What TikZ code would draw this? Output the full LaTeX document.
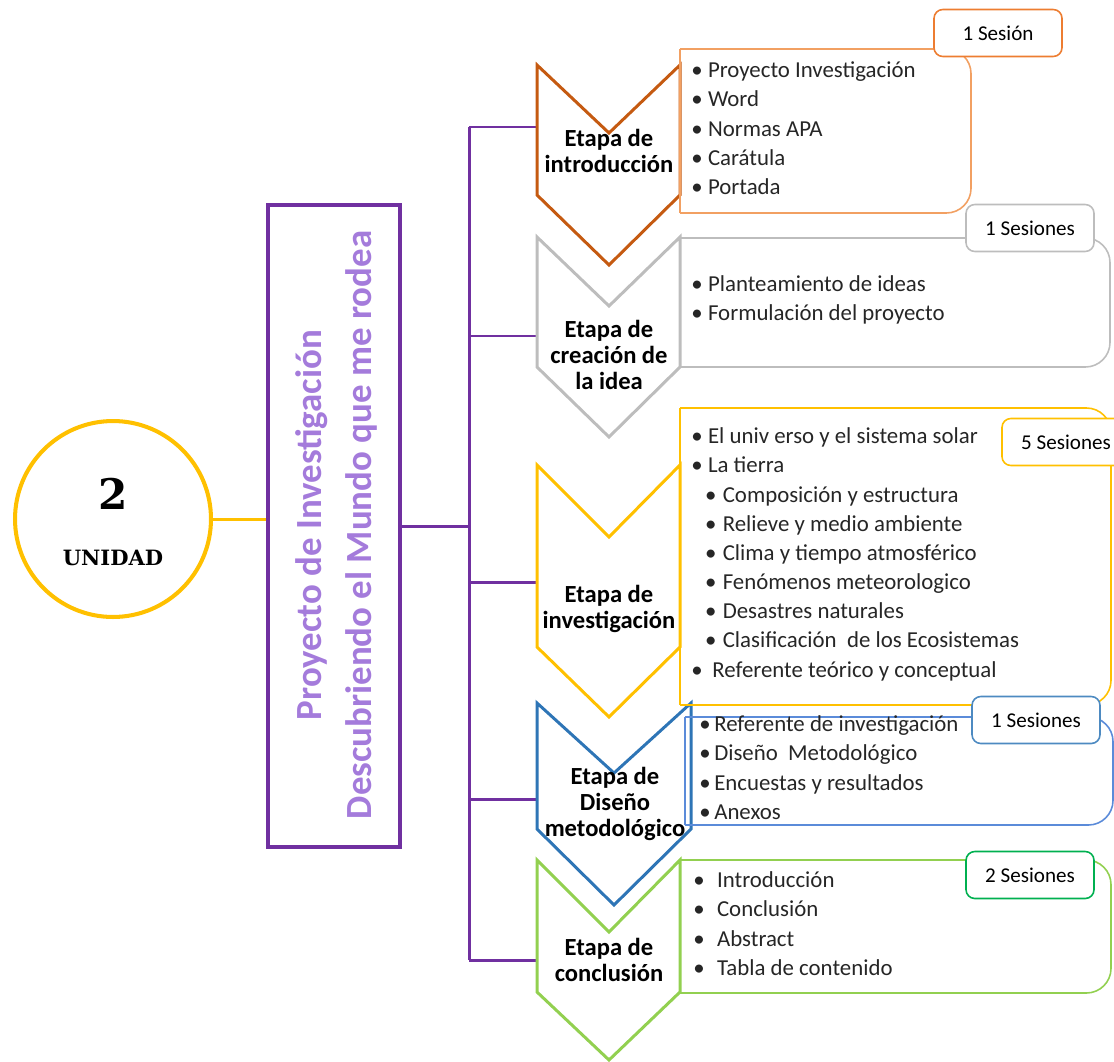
\documentclass[tikz,border=0pt]{standalone}
\usepackage{fontspec}
\setmainfont{Carlito}
\newfontfamily\unidadfont{DejaVu Serif}
\usetikzlibrary{shapes.geometric}

\definecolor{morado}{HTML}{7030A0}
\definecolor{lila}{HTML}{A47BDB}
\definecolor{amarillo}{HTML}{FFC000}
\definecolor{naranjaosc}{HTML}{C55A11}
\definecolor{naranja}{HTML}{F2A062}
\definecolor{naranjalab}{HTML}{ED7D31}
\definecolor{gris}{HTML}{BDBDBD}
\definecolor{azul}{HTML}{2E75B6}
\definecolor{azulclaro}{HTML}{5B8BD9}
\definecolor{verde}{HTML}{92D050}
\definecolor{verdeosc}{HTML}{00B050}

\newcommand{\bul}[2]{\strut\makebox[#1][l]{\textbullet}#2}

\begin{document}
\begin{tikzpicture}[x=0.02cm,y=-0.02cm]
\tikzset{etapa/.style={line width=1.7pt, line join=miter},
  caja/.style={line width=0.9pt, line cap=square},
  sesion/.style={draw, fill=white, rounded corners=5pt, line width=0.9pt, minimum width=2.56cm, minimum height=0.94cm, font=\fontsize{12}{14}\selectfont},
  lista/.style={anchor=north west, inner sep=0pt, align=left, text=black!85, font=\fontsize{13}{16.6}\selectfont},
  etapatxt/.style={align=center, inner sep=0pt, font=\bfseries\fontsize{14}{14.7}\selectfont},
  rama/.style={morado, line width=1.7pt}}
\useasboundingbox (0,0) rectangle (1114,1061);

% unidad
\node[circle, draw=amarillo, line width=2.3pt, minimum size=3.92cm] (unidad) at (113,519) {};
\node[font=\unidadfont\bfseries\fontsize{24}{24}\selectfont] (num) at (113,494) {2};
\node[font=\unidadfont\bfseries\fontsize{12}{12}\selectfont] (unid) at (113,558) {UNIDAD};

% proyecto
\node[draw=morado, line width=2.3pt, minimum width=2.64cm, minimum height=12.86cm] (titulo) at (334,526) {};
\node[rotate=90, align=center, text=lila, font=\bfseries\fontsize{21}{28.5}\selectfont] (titulotxt) at (336,525) {Proyecto de Investigación\\Descubriendo el Mundo que me rodea};
\draw[amarillo, line width=1.7pt] (unidad.east) -- (unidad.east -| titulo.west);

% tronco y ramas
\coordinate (troncoarr) at (469,127);
\coordinate (troncoab) at (469,960);
\coordinate (p1) at (537,127);
\coordinate (p2) at (537,336);
\coordinate (p3) at (537,582);
\coordinate (p4) at (537,799);
\coordinate (p5) at (537,960);
\draw[rama] (troncoarr) -- (troncoab);
\draw[rama] (titulo.east) -- (titulo.east -| troncoarr);
\draw[rama] (p1 -| troncoarr) -- (p1);
\draw[rama] (p2 -| troncoarr) -- (p2);
\draw[rama] (p3 -| troncoarr) -- (p3);
\draw[rama] (p4 -| troncoarr) -- (p4);
\draw[rama] (p5 -| troncoarr) -- (p5);

% etapas
\draw[etapa, naranjaosc] (537,65) -- (609,133) -- (680,65) -- (680,195) -- (609,265) -- (537,195) -- cycle;
\draw[etapa, gris] (537,237) -- (609,306) -- (680,237) -- (680,367) -- (609,437) -- (537,367) -- cycle;
\draw[etapa, amarillo] (537,465) -- (609,537) -- (680,465) -- (680,647) -- (609,717) -- (537,647) -- cycle;
\draw[etapa, azul] (537,703) -- (614,773) -- (691,703) -- (691,829) -- (614,905) -- (537,829) -- cycle;
\draw[etapa, verde] (537,860) -- (609,932) -- (680,860) -- (680,992) -- (609,1060) -- (537,992) -- cycle;
\node[etapatxt] (e1) at (609,151) {Etapa de\\introducción};
\node[etapatxt] (e2) at (609,355) {Etapa de\\creación de\\la idea};
\node[etapatxt] (e3) at (609,609) {Etapa de\\investigación};
\node[etapatxt] (e4) at (615,804) {Etapa de\\Diseño\\metodológico};
\node[etapatxt] (e5) at (609,960) {Etapa de\\conclusión};

% cajas
\draw[caja, naranja, rounded corners=14pt] (680,49) -- (971,49) -- (971,213) -- (680,213);
\draw[caja, naranja] (680,49) -- (680,213);
\draw[caja, gris, rounded corners=14pt] (680,238) -- (1110,238) -- (1110,367) -- (680,367);
\draw[caja, gris] (680,238) -- (680,367);
\draw[caja, amarillo, rounded corners=14pt] (680,408) -- (1111,408) -- (1111,705) -- (680,705);
\draw[caja, amarillo] (680,408) -- (680,705);
\draw[caja, azulclaro, rounded corners=14pt] (685,717) -- (1113,717) -- (1113,825) -- (685,825);
\draw[caja, azulclaro] (685,717) -- (685,825);
\draw[caja, verde, rounded corners=14pt] (680,860) -- (1111,860) -- (1111,993) -- (680,993);
\draw[caja, verde] (680,860) -- (680,993);

% listas
\node[lista] (l1) at (691,57) {\bul{9.5pt}{Proyecto Investigación}\\ \bul{9.5pt}{Word}\\ \bul{9.5pt}{Normas APA}\\ \bul{9.5pt}{Carátula}\\ \bul{9.5pt}{Portada}};
\node[lista] (l2) at (691,271) {\bul{9.5pt}{Planteamiento de ideas}\\ \bul{9.5pt}{Formulación del proyecto}};
\node[lista] (l3) at (691,423) {\bul{9.5pt}{El univ erso y el sistema solar}\\ \bul{9.5pt}{La tierra}\\
  \hspace*{7.9pt}\bul{10pt}{Composición y estructura}\\ \hspace*{7.9pt}\bul{10pt}{Relieve y medio ambiente}\\
  \hspace*{7.9pt}\bul{10pt}{Clima y tiempo atmosférico}\\ \hspace*{7.9pt}\bul{10pt}{Fenómenos meteorologico}\\
  \hspace*{7.9pt}\bul{10pt}{Desastres naturales}\\ \hspace*{7.9pt}\bul{10pt}{Clasificación \ de los Ecosistemas}\\
  \bul{12pt}{Referente teórico y conceptual}};
\node[lista] (l4) at (699,711) {\bul{8.5pt}{Referente de investigación}\\ \bul{8.5pt}{Diseño \ Metodológico}\\ \bul{8.5pt}{Encuestas y resultados}\\ \bul{8.5pt}{Anexos}};
\node[lista] (l5) at (693,867) {\bul{13.5pt}{Introducción}\\ \bul{13.5pt}{Conclusión}\\ \bul{13.5pt}{Abstract}\\ \bul{13.5pt}{Tabla de contenido}};

% sesiones
\node[sesion, draw=naranjalab] (s1) at (998,33) {1 Sesión};
\node[sesion, draw=gris] (s2) at (1030,228) {1 Sesiones};
\node[sesion, draw=amarillo] (s3) at (1066,442) {5 Sesiones};
\node[sesion, draw=azul!85] (s4) at (1036,720) {1 Sesiones};
\node[sesion, draw=verdeosc] (s5) at (1030,875) {2 Sesiones};
\end{tikzpicture}
\end{document}
